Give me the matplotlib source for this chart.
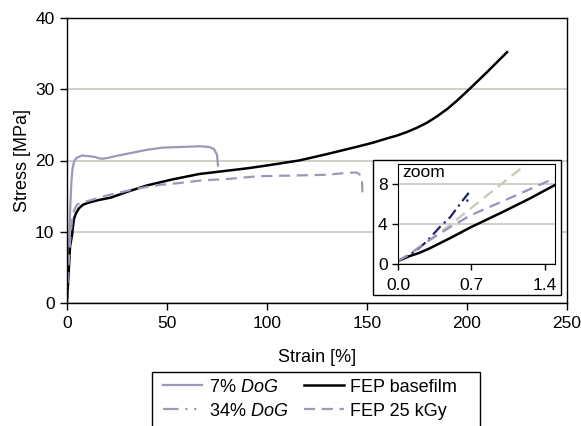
import matplotlib
matplotlib.use('Agg')
import matplotlib.pyplot as plt
from matplotlib.patches import Rectangle

plt.rcParams['font.family'] = ['Liberation Sans', 'DejaVu Sans']
plt.rcParams['mathtext.fontset'] = 'custom'
plt.rcParams['mathtext.it'] = 'Liberation Sans:italic'
plt.rcParams['mathtext.rm'] = 'Liberation Sans'

# stress-strain curves, strain in %, stress in MPa
strain_7 = [0, 0.2, 0.46, 0.7, 1.0, 1.3, 1.7, 2.2, 2.7, 3.3, 4, 5, 7.5, 11, 14, 16, 18, 21,
            24, 31, 40, 47.5, 57, 66.5, 71, 73.5, 75, 75.5]
stress_7 = [0.3, 1.6, 3.6, 5.6, 8.1, 10.6, 14.0, 17.0, 18.7, 19.6, 20.1, 20.4, 20.7, 20.6,
            20.5, 20.3, 20.25, 20.4, 20.6, 21.0, 21.5, 21.8, 21.9, 22.0, 21.9, 21.6, 20.8, 19.3]

strain_34 = [0, 0.1, 0.2, 0.27, 0.4, 0.5, 0.6, 0.67, 0.665, 0.66]
stress_34 = [0.3, 0.8, 1.6, 2.2, 3.7, 4.7, 6.1, 7.05, 6.6, 6.1]

strain_base = [0, 0.1, 0.2, 0.3, 0.5, 0.7, 1.0, 1.25, 1.5, 2.5, 3, 3.5, 4.5, 6, 8, 11, 15,
               22, 30, 40, 52, 66, 75, 90, 100, 116, 130, 146, 153, 160, 165, 170, 175,
               180, 185, 190, 195, 200, 210, 220]
stress_base = [0.3, 0.75, 1.1, 1.55, 2.6, 3.7, 5.2, 6.5, 7.9, 9.5, 10.8, 11.8, 12.6, 13.3,
               13.8, 14.1, 14.4, 14.8, 15.6, 16.5, 17.3, 18.1, 18.4, 18.9, 19.3, 20.0, 20.9,
               22.0, 22.5, 23.1, 23.5, 24.0, 24.6, 25.3, 26.2, 27.2, 28.4, 29.7, 32.4, 35.2]

strain_25 = [0, 0.1, 0.27, 0.5, 0.7, 1.07, 1.5, 2.5, 3.5, 5, 7.5, 14, 20, 31, 40, 47, 55,
             67, 80, 96, 115, 130, 141, 145, 147, 147.5, 147.7]
stress_25 = [0.3, 0.9, 2.2, 3.7, 4.9, 6.6, 8.6, 11.5, 13.0, 13.8, 14.1, 14.6, 15.1, 15.8,
             16.3, 16.6, 16.8, 17.2, 17.4, 17.8, 17.9, 18.0, 18.3, 18.3, 17.9, 17.2, 15.5]

labels = ['7% $\\it{DoG}$', '34% $\\it{DoG}$', 'FEP basefilm', 'FEP 25 kGy']

lav = '#9a9ab6'
grid_c = '#c8c8c0'
fs = 13

fig = plt.figure(figsize=(5.81, 4.26), dpi=100)
ax = fig.add_axes([67/581, 1 - 303/426, 500/581, 285/426])

l1, = ax.plot(strain_7, stress_7, color=lav, lw=1.6)
l2, = ax.plot(strain_34, stress_34, color=lav, lw=1.6, ls=(0, (7, 3, 1, 3, 1, 3)))
l3, = ax.plot(strain_base, stress_base, color='black', lw=1.8)
l4, = ax.plot(strain_25, stress_25, color=lav, lw=1.6, ls=(0, (5, 3)))

ax.set_xlim(0, 250)
ax.set_ylim(0, 40)
ax.set_xticks([0, 50, 100, 150, 200, 250])
ax.set_yticks([0, 10, 20, 30, 40])
ax.yaxis.grid(True, color=grid_c, lw=1.2)
ax.set_axisbelow(True)
ax.tick_params(direction='out', length=5, width=1, pad=4, labelsize=12.5, colors='black')
for s in ax.spines.values():
    s.set_linewidth(1)
ax.set_xlabel('Strain [%]', fontsize=fs, labelpad=13)
ax.set_ylabel('Stress [MPa]', fontsize=fs, labelpad=3)

# white box behind the zoomed view
fig.add_artist(Rectangle((373/581, 1 - 295/426), 188/581, 135/426, transform=fig.transFigure,
                         facecolor='white', edgecolor='black', lw=1, zorder=1))

ins = fig.add_axes([398/581, 1 - 264/426, 157/581, 100/426], zorder=2)
ins.plot(strain_7, stress_7, color='#c8c8b8', lw=1.6, ls=(0, (5, 3)))
ins.plot(strain_34, stress_34, color='#22226e', lw=1.6, ls=(0, (5, 2, 1, 2)))
ins.plot(strain_base, stress_base, color='black', lw=1.8)
ins.plot(strain_25, stress_25, color='#9494bc', lw=1.6, ls=(0, (5, 3)))
ins.set_xlim(0, 1.5)
ins.set_ylim(0, 10)
ins.set_xticks([0.0, 0.7, 1.4])
ins.set_xticklabels(['0.0', '0.7', '1.4'])
ins.set_yticks([0, 4, 8])
ins.yaxis.grid(True, color=grid_c, lw=1.2)
ins.set_axisbelow(True)
ins.tick_params(direction='out', length=4, width=1, labelsize=12.5)
ins.tick_params(axis='x', pad=6)
ins.text(0.03, 0.99, 'zoom', transform=ins.transAxes, va='top', ha='left', fontsize=12.5)

# legend box runs past the bottom edge
fig.add_artist(Rectangle((152/581, -0.1), 328/581, 0.1 + 1 - 372/426, transform=fig.transFigure,
                         facecolor='white', edgecolor='black', lw=1, zorder=3))
leg = fig.legend([l1, l2, l3, l4], [labels[0], labels[1], labels[2], labels[3]],
                 loc='upper left', bbox_to_anchor=(158/581, 1 - 374/426), ncol=2,
                 frameon=False, fontsize=fs, handlelength=2.2, handletextpad=0.35,
                 columnspacing=0.9, labelspacing=0.4, borderpad=0.25, borderaxespad=0)
leg.set_zorder(4)

fig.savefig('out.png', dpi=100)
